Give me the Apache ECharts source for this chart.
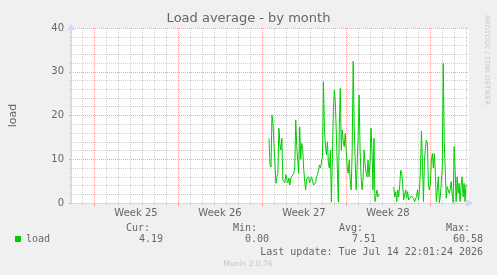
<!DOCTYPE html>
<html>
<head>
<meta charset="utf-8">
<title>Load average - by month</title>
<script src="https://cdn.jsdelivr.net/npm/echarts@6/dist/echarts.min.js"></script>
<style>
  html, body { margin: 0; padding: 0; background: #f0f0f0; }
  #chart { width: 497px; height: 275px; }
</style>
</head>
<body>
<div id="chart"></div>
<script>
// 2-hour slots across the month view
var slotCount = 403;

// load average, first block of samples (starts at slot 200)
var seg1Start = 200;
var seg1 = [
    14.8, 8.7, 8.2, 20.1, 18.2, 13.6, 9.1, 4.5, 6, 6.8,
    17.1, 13.5, 12.1, 14.8, 5.3, 5.7, 4.6, 6.5, 5.3, 4.6,
    5.7, 4.1, 5.7, 5.3, 6, 6.8, 8, 19, 12.9, 9.8,
    6.8, 17.4, 10, 13.6, 12.5, 8, 5, 3, 5.5, 5.7,
    6, 4.6, 5.3, 6, 5, 4.1, 3.8, 4.6, 6, 6.5,
    7.5, 8.7, 8, 8.3, 10.6, 27.7, 17, 13, 11, 14,
    9, 8, 12, 0.2, 10, 21.3, 25.8, 23, 16, 8,
    0.2, 17.4, 26.2, 12, 16.7, 14, 12.9, 15.9, 12, 8,
    6.8, 9.8, 5.3, 3, 12, 32.4, 18, 10, 3, 8.3,
    15.2, 24.7, 12, 6, 3, 5.3, 12.1, 9.1, 7, 6,
    9.8, 6, 9.1, 17.1, 12.1, 3, 14.8, 0.3, 1.5, 3,
    1.4, 2
];

// second block after the gap (starts at slot 326)
var seg2Start = 326;
var seg2 = [
    3.7, 1.4, 2.6, 0.3, 3, 1.4, 4, 7.5, 6.8, 4.5,
    0.7, 0.3, 3, 1.1, 2.6, 0.7, 1.1, 0.3, 1.6, 1.4,
    1.1, 0.3, 0.5, 1.5, 3, 0.7, 3, 8, 16.5, 9.1,
    0.3, 9.8, 12.5, 14.4, 13.6, 4, 3, 4.5, 9.8, 11.3,
    8, 11.3, 6.8, 0.3, 3, 6, 0.1, 1.4, 1.5, 8,
    31.9, 14, 13.6, 1.1, 3.7, 3, 2.2, 3, 4.9, 2,
    0.1, 12.9, 7.5, 0.3, 6, 2.2, 4.5, 0.3, 4, 6,
    1.4, 4.5, 0.3, 4.2
];

var weekLabels = ['Week 25', 'Week 26', 'Week 27', 'Week 28'];
var dayCount = 33;   // day lines drawn inside the view
var yTicks = [0, 10, 20, 30, 40];

var statNames = ['Cur:', 'Min:', 'Avg:', 'Max:'];
var statValues = ['4.19', '0.00', '7.51', '60.58'];
var lastUpdate = 'Last update: Tue Jul 14 22:01:24 2026';

function build_series() {
    var data = [];
    for (var i = 0; i < slotCount; i++) data.push(null);
    for (var a = 0; a < seg1.length; a++) data[seg1Start + a] = seg1[a];
    for (var b = 0; b < seg2.length; b++) data[seg2Start + b] = seg2[b];
    return data;
}

function get_option() {
    var slots = [];
    for (var i = 0; i < slotCount; i++) slots.push(String(i));

    var font = 'DejaVu Sans';
    var mono = 'DejaVu Sans Mono';
    var grey = '#d0d0d0', red = '#ffa0a0', axisCol = '#cfd6f8', txt = '#666';

    var colX = [150, 257, 363, 470];
    var valX = [163, 269, 376, 483];
    var texts = [];
    for (var k = 0; k < statNames.length; k++) {
        texts.push({type: 'text', x: colX[k], y: 228, style: {text: statNames[k], font: '10px ' + mono, fill: txt, align: 'right', verticalAlign: 'middle'}});
        texts.push({type: 'text', x: valX[k], y: 239, style: {text: statValues[k], font: '10px ' + mono, fill: txt, align: 'right', verticalAlign: 'middle'}});
    }
    texts.push({type: 'text', x: 483, y: 252, style: {text: lastUpdate, font: '10px ' + mono, fill: txt, align: 'right', verticalAlign: 'middle'}});
    texts.push({type: 'text', x: 248, y: 264, style: {text: 'Munin 2.0.76', font: '7.5px ' + font, fill: '#c4c4c4', align: 'center', verticalAlign: 'middle'}});
    texts.push({type: 'text', x: 487, y: 15, rotation: -Math.PI / 2, style: {text: 'RRDTOOL / TOBI OETIKER', font: '7px ' + font, fill: '#c8c8c8', align: 'left', verticalAlign: 'middle'}});

    var hiddenY = function (g) {
        return {type: 'value', gridIndex: g, min: 0, max: 1, show: false};
    };

    return {
        backgroundColor: '#f0f0f0',
        animation: false,
        title: {
            text: 'Load average - by month',
            left: 'center',
            top: 12,
            padding: 0,
            textStyle: {fontFamily: font, fontSize: 13, fontWeight: 'normal', color: txt}
        },
        legend: {
            data: ['load'],
            left: 15,
            top: 234,
            padding: 0,
            icon: 'rect',
            itemWidth: 6,
            itemHeight: 6,
            textStyle: {fontFamily: mono, fontSize: 10, color: txt}
        },
        grid: [
            // plot area
            {left: 67, top: 28, width: 402, height: 175, show: true, backgroundColor: '#ffffff', borderWidth: 0},
            // day lines (first at 70px, last at 466px)
            {left: 70, top: 28, width: 396, height: 175},
            // week lines and labels
            {left: 94, top: 28, width: 336, height: 175}
        ],
        xAxis: [
            {
                type: 'category',
                gridIndex: 0,
                data: slots,
                boundaryGap: false,
                axisLine: {show: true, symbol: ['none', 'arrow'], symbolSize: [6, 7], symbolOffset: [0, 4], lineStyle: {color: axisCol, width: 1}},
                axisTick: {show: false},
                splitLine: {show: false},
                axisLabel: {show: false}
            },
            {
                type: 'value',
                gridIndex: 1,
                min: 0,
                max: dayCount,
                interval: 1,
                axisLine: {show: false},
                axisTick: {show: true, length: 2, lineStyle: {color: grey}},
                splitLine: {show: true, lineStyle: {color: grey, type: [1, 1]}},
                axisLabel: {show: false}
            },
            {
                type: 'category',
                gridIndex: 2,
                data: weekLabels,
                boundaryGap: true,
                axisLine: {show: false},
                axisTick: {show: true, interval: 0, length: 3, lineStyle: {color: red}},
                splitLine: {show: true, interval: 0, lineStyle: {color: red, type: [1, 1]}},
                axisLabel: {show: true, interval: 0, margin: 5, fontFamily: font, fontSize: 10, color: txt}
            }
        ],
        yAxis: [
            {
                type: 'value',
                gridIndex: 0,
                min: yTicks[0],
                max: yTicks[yTicks.length - 1],
                interval: 10,
                name: 'load',
                nameLocation: 'middle',
                nameRotate: 90,
                nameGap: 52,
                nameTextStyle: {fontFamily: font, fontSize: 11, color: txt},
                axisLine: {show: true, symbol: ['none', 'arrow'], symbolSize: [6, 7], symbolOffset: [0, 4], lineStyle: {color: axisCol, width: 1}},
                axisTick: {show: true, length: 2, lineStyle: {color: red}},
                minorTick: {show: true, splitNumber: 5, length: 2, lineStyle: {color: grey}},
                splitLine: {show: true, lineStyle: {color: red, type: [1, 1]}},
                minorSplitLine: {show: true, lineStyle: {color: grey, type: [1, 1]}},
                axisLabel: {margin: 7, fontFamily: font, fontSize: 10, color: txt}
            },
            hiddenY(1),
            hiddenY(2)
        ],
        series: [
            {
                name: 'load',
                type: 'line',
                xAxisIndex: 0,
                yAxisIndex: 0,
                data: build_series(),
                showSymbol: false,
                connectNulls: false,
                itemStyle: {color: '#00cc00'},
                lineStyle: {color: '#00cc00', width: 1},
                z: 5
            }
        ],
        graphic: texts
    };
}

var myChart = echarts.init(document.getElementById('chart'));
myChart.setOption(get_option());
</script>
</body>
</html>
